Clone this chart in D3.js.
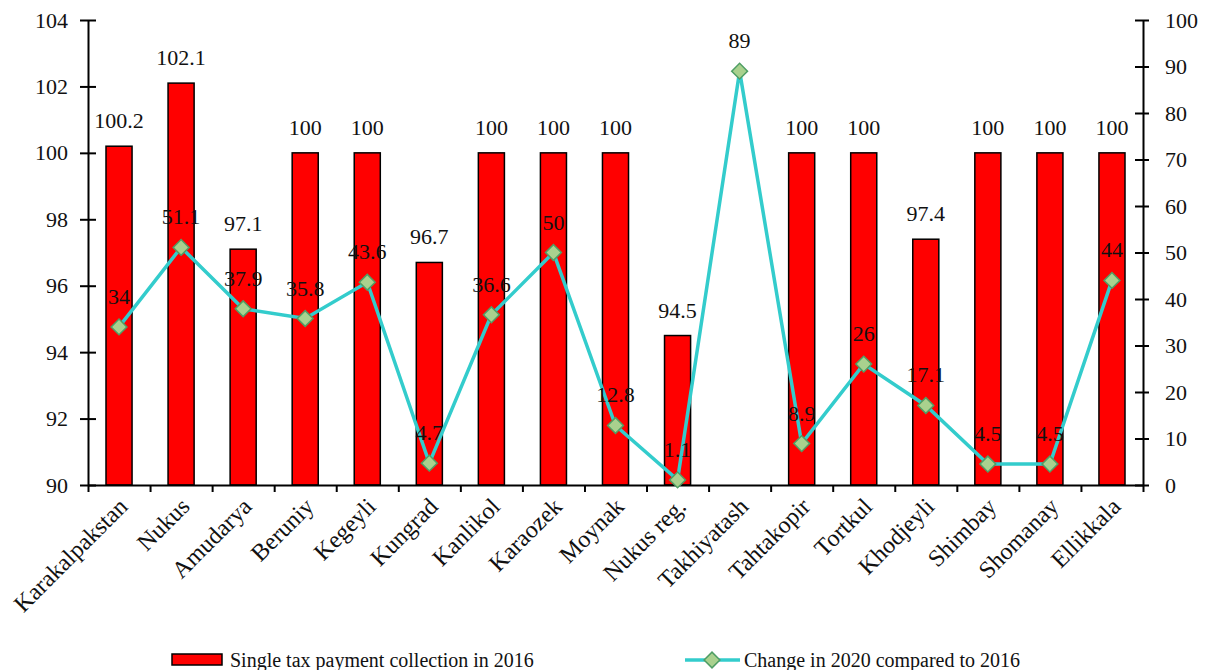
<!DOCTYPE html>
<html>
<head>
<meta charset="utf-8">
<script src="https://cdn.jsdelivr.net/npm/d3@7"></script>
<style>
  body { margin: 0; background: #fff; }
  text { font-family: "Liberation Serif", "Times New Roman", serif; fill: #111; }
</style>
</head>
<body>
<svg id="chart" width="1207" height="670"></svg>
<script>
// chart data
var districts = ["Karakalpakstan", "Nukus", "Amudarya", "Beruniy", "Kegeyli", "Kungrad",
    "Kanlikol", "Karaozek", "Moynak", "Nukus reg.", "Takhiyatash", "Tahtakopir",
    "Tortkul", "Khodjeyli", "Shimbay", "Shomanay", "Ellikkala"];
var collection2016 = [100.2, 102.1, 97.1, 100, 100, 96.7, 100, 100, 100, 94.5, null,
    100, 100, 97.4, 100, 100, 100];
var change2020 = [34, 51.1, 37.9, 35.8, 43.6, 4.7, 36.6, 50, 12.8, 1.1, 89, 8.9, 26,
    17.1, 4.5, 4.5, 44];
var leftTicks = [90, 92, 94, 96, 98, 100, 102, 104];
var rightTicks = [0, 10, 20, 30, 40, 50, 60, 70, 80, 90, 100];
var seriesNames = ["Single tax payment collection in 2016", "Change in 2020 compared to 2016"];

var svg = d3.select("#chart");
var plotL = 88, plotR = 1143, plotT = 20, plotB = 485;

var x = d3.scaleBand()
    .domain(districts)
    .range([plotL, plotR])
    .paddingInner(0.58)
    .paddingOuter(0.29);

var edges = d3.scaleLinear().domain([0, districts.length]).range([plotL, plotR]);

var yL = d3.scaleLinear().domain([90, 104]).range([plotB, plotT]);
var yR = d3.scaleLinear().domain([0, 100]).range([plotB, plotT]);

var lineColor = "#33cccc";

// bars
var barData = districts.map(function(d, i) { return {name: d, v: collection2016[i]}; })
    .filter(function(d) { return d.v != null; });

svg.append("g").selectAll("rect")
    .data(barData)
    .enter()
    .append("rect")
    .attr("x", function(d) { return x(d.name); })
    .attr("y", function(d) { return yL(d.v); })
    .attr("width", x.bandwidth())
    .attr("height", function(d) { return plotB - yL(d.v); })
    .attr("fill", "#ff0000")
    .attr("stroke", "#000")
    .attr("stroke-width", 1.5);

// axes
var gx = svg.append("g")
    .attr("transform", "translate(0," + plotB + ")")
    .call(d3.axisBottom(edges).tickValues(d3.range(districts.length + 1)).tickFormat("").tickSize(7).tickSizeOuter(0));

var gl = svg.append("g")
    .attr("transform", "translate(" + plotL + ",0)")
    .call(d3.axisLeft(yL).tickValues(leftTicks).tickSize(8).tickSizeOuter(0).tickPadding(12));
gl.selectAll(".tick line").attr("x1", 8);

var gr = svg.append("g")
    .attr("transform", "translate(" + plotR + ",0)")
    .call(d3.axisRight(yR).tickValues(rightTicks).tickSize(6).tickSizeOuter(0).tickPadding(16));
gr.selectAll(".tick line").attr("x1", -8);

[gx, gl, gr].forEach(function(g) {
    g.select(".domain").attr("stroke", "#000").attr("stroke-width", 2);
    g.selectAll(".tick line").attr("stroke", "#000").attr("stroke-width", 2);
    g.selectAll(".tick text")
        .attr("font-size", 22)
        .attr("font-family", "Liberation Serif")
        .attr("fill", "#111");
});

// category labels
svg.append("g").selectAll("text")
    .data(districts)
    .enter()
    .append("text")
    .attr("text-anchor", "end")
    .attr("font-size", 24)
    .attr("transform", function(d) {
        var cx = x(d) + x.bandwidth() / 2 + 10;
        return "translate(" + cx + "," + (plotB + 23) + ") rotate(-45)";
    })
    .text(function(d) { return d; });

// bar labels
svg.append("g").selectAll("text")
    .data(barData)
    .enter()
    .append("text")
    .attr("text-anchor", "middle")
    .attr("font-size", 22)
    .attr("x", function(d) { return x(d.name) + x.bandwidth() / 2; })
    .attr("y", function(d) { return yL(d.v) - 18; })
    .text(function(d) { return d.v; });

// change line
var pts = districts.map(function(d, i) { return {name: d, v: change2020[i]}; });
var line = d3.line()
    .x(function(d) { return x(d.name) + x.bandwidth() / 2; })
    .y(function(d) { return yR(d.v); });

svg.append("path")
    .datum(pts)
    .attr("d", line)
    .attr("fill", "none")
    .attr("stroke", lineColor)
    .attr("stroke-width", 3.5);

var diamond = d3.symbol().type(d3.symbolSquare).size(125);

svg.append("g").selectAll("path")
    .data(pts)
    .enter()
    .append("path")
    .attr("d", diamond)
    .attr("transform", function(d) {
        return "translate(" + (x(d.name) + x.bandwidth() / 2) + "," + yR(d.v) + ") rotate(45)";
    })
    .attr("fill", "#a9d18e")
    .attr("stroke", "#4f9e64")
    .attr("stroke-width", 1.5);

svg.append("g").selectAll("text")
    .data(pts)
    .enter()
    .append("text")
    .attr("text-anchor", "middle")
    .attr("font-size", 22)
    .attr("x", function(d) { return x(d.name) + x.bandwidth() / 2; })
    .attr("y", function(d) { return yR(d.v) - 23; })
    .text(function(d) { return d.v; });

// legend
var leg = svg.append("g");
leg.append("rect")
    .attr("x", 172).attr("y", 654)
    .attr("width", 50).attr("height", 11)
    .attr("fill", "#ff0000").attr("stroke", "#000").attr("stroke-width", 1.5);
leg.append("text")
    .attr("x", 230).attr("y", 667)
    .attr("font-size", 20)
    .text(seriesNames[0]);

leg.append("line")
    .attr("x1", 685).attr("x2", 740)
    .attr("y1", 660).attr("y2", 660)
    .attr("stroke", lineColor).attr("stroke-width", 3.5);
leg.append("path")
    .attr("d", diamond)
    .attr("transform", "translate(712,660) rotate(45)")
    .attr("fill", "#a9d18e").attr("stroke", "#4f9e64").attr("stroke-width", 1.5);
leg.append("text")
    .attr("x", 744).attr("y", 667)
    .attr("font-size", 20)
    .text(seriesNames[1]);
</script>
</body>
</html>
